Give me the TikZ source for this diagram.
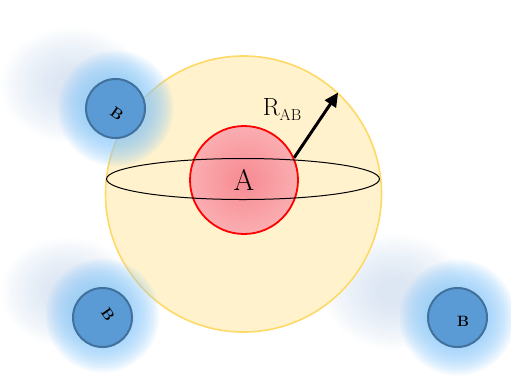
\documentclass[tikz,border=0pt]{standalone}
\usetikzlibrary{arrows.meta}

\definecolor{shellfill}{RGB}{255,242,204}
\definecolor{shelldraw}{RGB}{255,217,102}
\definecolor{bfill}{RGB}{91,155,213}
\definecolor{bdraw}{RGB}{65,113,156}
\definecolor{glowblue}{RGB}{140,200,250}
\definecolor{hazeblue}{RGB}{185,205,232}
\definecolor{pinkin}{RGB}{246,138,145}
\definecolor{pinkout}{RGB}{255,210,210}

\pgfdeclareradialshading{pinkball}{\pgfpointorigin}{color(0bp)=(pinkin); color(50bp)=(pinkout)}

\begin{document}
\begin{tikzpicture}[x=1bp,y=-1bp,
  ball/.style={circle,draw=bdraw,fill=bfill,line width=2bp,minimum size=59bp,inner sep=0pt},
  blabel/.style={inner sep=0pt,font=\fontsize{15}{15}\selectfont\bfseries},
  glow/.style={fill=glowblue,opacity=0.09},
  haze/.style={fill=hazeblue,opacity=0.045}]
\useasboundingbox (0,0) rectangle (511,375);

% clouds behind the B atoms
\foreach \s in {0.25,0.3,...,1.0} {
  \fill[haze] (72,85) ellipse [x radius=75*\s, y radius=60*\s];
  \fill[haze] (68,292) ellipse [x radius=70*\s, y radius=57*\s];
  \fill[haze] (395,292) ellipse [x radius=75*\s, y radius=60*\s];
}

% the sphere round A
\node[circle,draw=shelldraw,fill=shellfill,line width=1.6bp,minimum size=276bp,inner sep=0pt] (shell) at (243.5,194) {};

\foreach \r in {30,32,...,58} {
  \fill[glow] (115.5,108.5) circle (\r);
  \fill[glow] (102.5,315.5) circle (\r-1);
  \fill[glow] (457.5,317.5) circle (\r);
}

\node[circle,draw=red,line width=1.8bp,shading=pinkball,minimum size=108bp,inner sep=0pt,
  font=\fontsize{30}{30}\selectfont] (A) at (244,180) {A};
\draw[line width=1bp] (243,179) ellipse [x radius=136.5, y radius=20.5];

\draw[line width=3bp,-{Triangle[length=14bp,width=13bp]}] (A.24) -- (shell.47);
\node[font=\fontsize{25}{25}\selectfont] (rab) at (282,109)
  {R\raisebox{-5bp}{\fontsize{16}{16}\selectfont AB}};

\node[ball] (B1) at (115.5,108.5) {};
\node[ball] (B2) at (102.5,317.5) {};
\node[ball] (B3) at (457.5,317.5) {};
\node[blabel,rotate=-35] (b1) at (117,114) {B};
\node[blabel,rotate=-55] (b2) at (108,314) {B};
\node[blabel] (b3) at (463,321) {B};
\end{tikzpicture}
\end{document}
